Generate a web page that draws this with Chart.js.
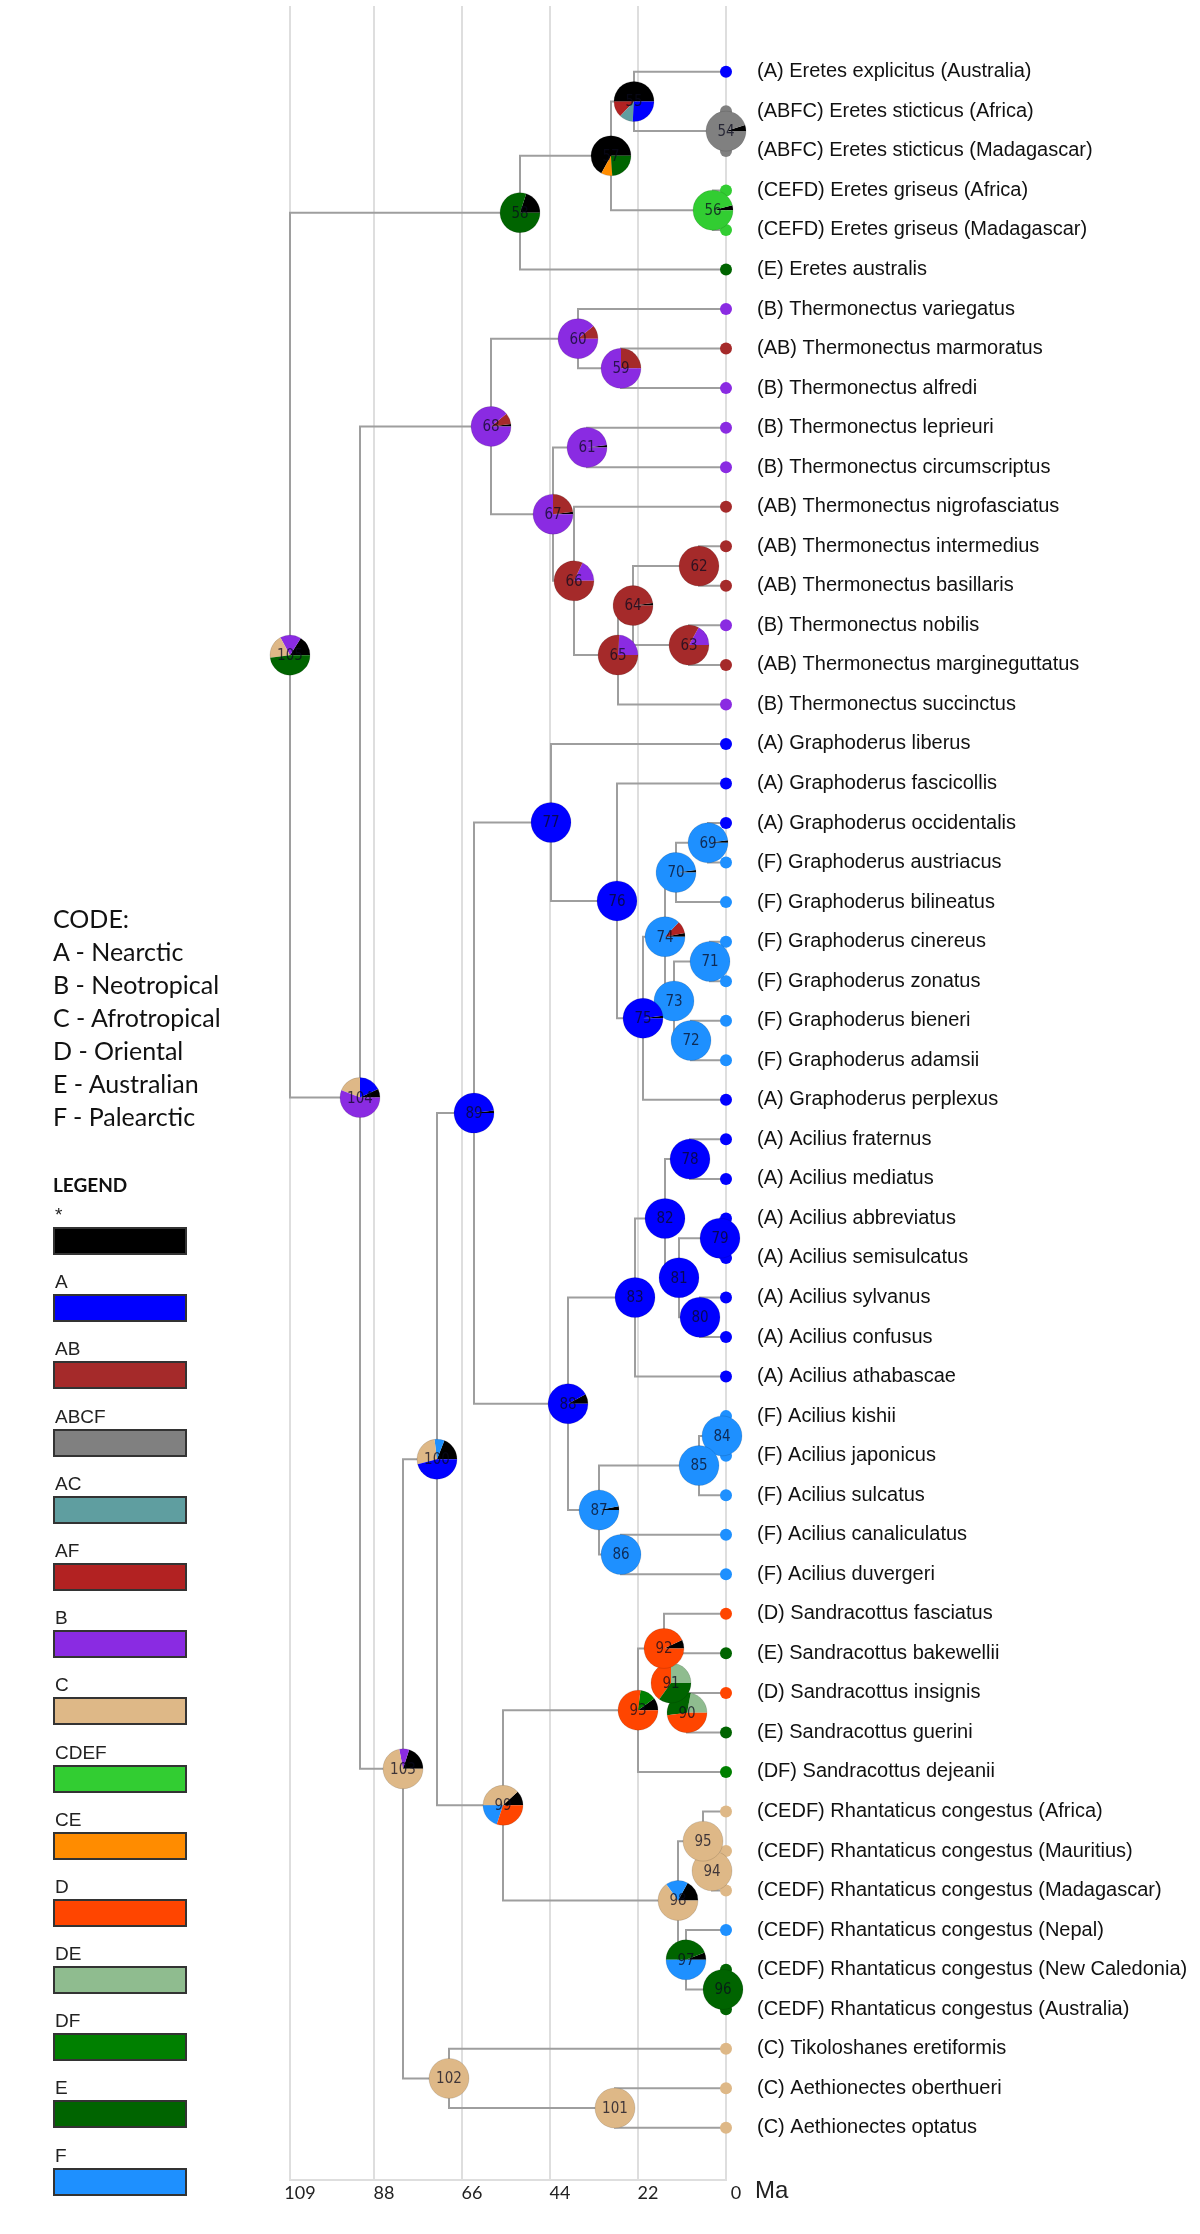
<!DOCTYPE html>
<html>
<head>
<meta charset="utf-8">
<script src="https://cdn.jsdelivr.net/npm/chart.js@4.4.1/dist/chart.umd.min.js"></script>
<style>
  body { margin: 0; background: #fff; }
  #wrap { position: relative; width: 1200px; height: 2234px; }
  #codes { position: absolute; left: 53px; top: 902px; font-family: Lato, sans-serif; font-size: 25px; line-height: 33px; color: #111; }
  #legend { position: absolute; left: 53px; top: 1174px; font-family: "Liberation Sans", Arial, sans-serif; }
  #legend .title { font-family: Lato, sans-serif; font-weight: bold; font-size: 19px; line-height: 22px; color: #111; height: 31px; }
  #legend .lab { font-size: 19px; line-height: 20px; height: 20px; color: #222; margin-left: 2px; }
  #legend .box { width: 130px; height: 24px; border: 2px solid #333; margin-top: 2px; margin-bottom: 17.2px; }
</style>
</head>
<body>
<div id="wrap">
  <canvas id="tree" width="1200" height="2234"></canvas>
  <div id="codes"></div>
  <div id="legend"></div>
</div>
<script>
// tips, top to bottom
const tipNames = [
  "(A) Eretes explicitus (Australia)",
  "(ABFC) Eretes sticticus (Africa)",
  "(ABFC) Eretes sticticus (Madagascar)",
  "(CEFD) Eretes griseus (Africa)",
  "(CEFD) Eretes griseus (Madagascar)",
  "(E) Eretes australis",
  "(B) Thermonectus variegatus",
  "(AB) Thermonectus marmoratus",
  "(B) Thermonectus alfredi",
  "(B) Thermonectus leprieuri",
  "(B) Thermonectus circumscriptus",
  "(AB) Thermonectus nigrofasciatus",
  "(AB) Thermonectus intermedius",
  "(AB) Thermonectus basillaris",
  "(B) Thermonectus nobilis",
  "(AB) Thermonectus margineguttatus",
  "(B) Thermonectus succinctus",
  "(A) Graphoderus liberus",
  "(A) Graphoderus fascicollis",
  "(A) Graphoderus occidentalis",
  "(F) Graphoderus austriacus",
  "(F) Graphoderus bilineatus",
  "(F) Graphoderus cinereus",
  "(F) Graphoderus zonatus",
  "(F) Graphoderus bieneri",
  "(F) Graphoderus adamsii",
  "(A) Graphoderus perplexus",
  "(A) Acilius fraternus",
  "(A) Acilius mediatus",
  "(A) Acilius abbreviatus",
  "(A) Acilius semisulcatus",
  "(A) Acilius sylvanus",
  "(A) Acilius confusus",
  "(A) Acilius athabascae",
  "(F) Acilius kishii",
  "(F) Acilius japonicus",
  "(F) Acilius sulcatus",
  "(F) Acilius canaliculatus",
  "(F) Acilius duvergeri",
  "(D) Sandracottus fasciatus",
  "(E) Sandracottus bakewellii",
  "(D) Sandracottus insignis",
  "(E) Sandracottus guerini",
  "(DF) Sandracottus dejeanii",
  "(CEDF) Rhantaticus congestus (Africa)",
  "(CEDF) Rhantaticus congestus (Mauritius)",
  "(CEDF) Rhantaticus congestus (Madagascar)",
  "(CEDF) Rhantaticus congestus (Nepal)",
  "(CEDF) Rhantaticus congestus (New Caledonia)",
  "(CEDF) Rhantaticus congestus (Australia)",
  "(C) Tikoloshanes eretiformis",
  "(C) Aethionectes oberthueri",
  "(C) Aethionectes optatus"
]
const tipAreas = [
  "A", "ABCF", "ABCF", "CDEF", "CDEF", "E",
  "B", "AB", "B", "B", "B", "AB", "AB", "AB", "B", "AB", "B",
  "A", "A", "A", "F", "F", "F", "F", "F", "F", "A",
  "A", "A", "A", "A", "A", "A", "A", "F", "F", "F", "F", "F",
  "D", "E", "D", "E", "DF",
  "C", "C", "C", "F", "E", "E",
  "C", "C", "C"
]

// internal nodes: children < 53 are tip indices, >= 54 are node ids
const nodeIds = [54, 55, 56, 57, 58, 59, 60, 61, 62, 63, 64, 65, 66, 67, 68, 69, 70, 71, 72, 73, 74, 75, 76, 77, 78, 79, 80, 81, 82, 83, 84, 85, 86, 87, 88, 89, 90, 91, 92, 93, 94, 95, 96, 97, 98, 99, 100, 101, 102, 103, 104, 105]
const nodeAges = [0, 23, 3.25, 28.75, 51.5, 26.25, 37, 34.75, 6.75, 9.25, 23.25, 27, 38, 43.25, 58.75, 4.5, 12.5, 4, 8.75, 13, 15.25, 20.75, 27.25, 43.75, 9, 1.5, 6.5, 11.75, 15.25, 22.75, 1, 6.75, 26.25, 31.75, 39.5, 63, 9.75, 13.75, 15.5, 22, 3.5, 5.75, 0.75, 10, 12, 55.75, 72.25, 27.75, 69.25, 80.75, 91.5, 109]
const nodeChildren = [
  [1, 2], [0, 54], [3, 4], [55, 56], [57, 5],
  [7, 8], [6, 59], [9, 10], [12, 13], [14, 15], [62, 63], [64, 16], [11, 65], [61, 66], [60, 67],
  [19, 20], [69, 21], [22, 23], [24, 25], [71, 72], [70, 73], [74, 26], [18, 75], [17, 76],
  [27, 28], [29, 30], [31, 32], [79, 80], [78, 81], [82, 33], [34, 35], [84, 36], [37, 38], [85, 86], [83, 87], [77, 88],
  [41, 42], [40, 90], [39, 91], [92, 43],
  [45, 46], [44, 94], [48, 49], [47, 96], [95, 97], [93, 98], [89, 99],
  [51, 52], [50, 101], [100, 102], [68, 103], [58, 104]
]
// ancestral area shares, slices counter-clockwise from 3 o'clock
const nodePies = [
  [["*", 0.05], ["ABCF", 0.95]],
  [["*", 0.5], ["AF", 0.13], ["AC", 0.11], ["A", 0.26]],
  [["*", 0.04], ["CDEF", 0.96]],
  [["*", 0.67], ["CE", 0.09], ["E", 0.24]],
  [["*", 0.2], ["E", 0.8]],
  [["AB", 0.25], ["B", 0.75]],
  [["AB", 0.11], ["B", 0.89]],
  [["*", 0.02], ["B", 0.98]],
  [["AB", 1]],
  [["B", 0.17], ["AB", 0.83]],
  [["*", 0.02], ["AB", 0.98]],
  [["B", 0.24], ["AB", 0.76]],
  [["B", 0.18], ["AB", 0.82]],
  [["*", 0.02], ["AB", 0.23], ["B", 0.75]],
  [["*", 0.02], ["AB", 0.09], ["B", 0.89]],
  [["*", 0.02], ["F", 0.98]],
  [["*", 0.02], ["F", 0.98]],
  [["F", 1]],
  [["F", 1]],
  [["F", 1]],
  [["*", 0.03], ["AF", 0.1], ["F", 0.87]],
  [["*", 0.02], ["A", 0.98]],
  [["A", 1]],
  [["A", 1]],
  [["A", 1]],
  [["A", 1]],
  [["A", 1]],
  [["A", 1]],
  [["A", 1]],
  [["A", 1]],
  [["F", 1]],
  [["F", 1]],
  [["F", 1]],
  [["*", 0.03], ["F", 0.97]],
  [["*", 0.08], ["A", 0.92]],
  [["*", 0.02], ["A", 0.98]],
  [["DE", 0.22], ["E", 0.3], ["D", 0.48]],
  [["DE", 0.25], ["D", 0.4], ["E", 0.35]],
  [["*", 0.07], ["D", 0.93]],
  [["*", 0.1], ["DF", 0.13], ["D", 0.77]],
  [["C", 1]],
  [["C", 1]],
  [["E", 1]],
  [["*", 0.06], ["E", 0.44], ["F", 0.5]],
  [["*", 0.17], ["F", 0.18], ["C", 0.65]],
  [["*", 0.12], ["C", 0.38], ["F", 0.2], ["D", 0.3]],
  [["*", 0.19], ["F", 0.08], ["C", 0.27], ["A", 0.46]],
  [["C", 1]],
  [["C", 1]],
  [["*", 0.2], ["B", 0.08], ["C", 0.72]],
  [["*", 0.07], ["A", 0.18], ["C", 0.19], ["B", 0.56]],
  [["*", 0.16], ["B", 0.17], ["C", 0.19], ["E", 0.48]]
]

const legendCodes = ["*", "A", "AB", "ABCF", "AC", "AF", "B", "C", "CDEF", "CE", "D", "DE", "DF", "E", "F"]
const legendColors = ["#000000", "#0000ff", "#a52a2a", "#808080", "#5f9ea0", "#b22222", "#8a2be2", "#deb887", "#32cd32", "#ff8c00", "#ff4500", "#8fbc8f", "#008000", "#006400", "#1e90ff"]
const regionCodes = ["A - Nearctic", "B - Neotropical", "C - Afrotropical", "D - Oriental", "E - Australian", "F - Palearctic"]
const axisTicks = [109, 88, 66, 44, 22, 0]

const areaColor = {}
legendCodes.forEach((c, i) => { areaColor[c] = legendColors[i] })

// tree layout: tips on integer rows, a node sits halfway between its two children
const posX = {}, posY = {}
tipNames.forEach((n, i) => { posX[i] = 0; posY[i] = i })
nodeIds.forEach((id, i) => {
  const [a, b] = nodeChildren[i]
  posX[id] = nodeAges[i]
  posY[id] = (posY[a] + posY[b]) / 2
})

const branchSets = nodeIds.map((id, i) => {
  const [a, b] = nodeChildren[i]
  return {
    type: 'line',
    data: [
      { x: posX[a], y: posY[a] }, { x: posX[id], y: posY[a] },
      { x: posX[id], y: posY[b] }, { x: posX[b], y: posY[b] }
    ],
    borderColor: '#9e9e9e',
    borderWidth: 2,
    pointRadius: 0,
    tension: 0,
    clip: false,
    order: 2,
  }
})

const tipSet = {
  data: tipNames.map((n, i) => ({ x: posX[i], y: posY[i] })),
  pointRadius: 6,
  pointHoverRadius: 6,
  pointBorderWidth: 0,
  pointBackgroundColor: tipAreas.map(c => areaColor[c]),
  clip: false,
  order: 1,
}

const nodeSet = {
  data: nodeIds.map(id => ({ x: posX[id], y: posY[id] })),
  pointRadius: 0,
  pointHoverRadius: 0,
  clip: false,
  order: 0,
}

const piePlugin = {
  id: 'pies',
  afterDatasetsDraw(chart) {
    const ctx = chart.ctx
    const meta = chart.getDatasetMeta(chart.data.datasets.length - 1)
    ctx.save()
    meta.data.forEach((pt, i) => {
      const r = 20
      let a0 = 0
      nodePies[i].forEach(([code, share]) => {
        const a1 = a0 - share * Math.PI * 2
        ctx.beginPath()
        ctx.moveTo(pt.x, pt.y)
        ctx.arc(pt.x, pt.y, r, a0, a1, true)
        ctx.closePath()
        ctx.fillStyle = areaColor[code]
        ctx.fill()
        a0 = a1
      })
      ctx.beginPath()
      ctx.arc(pt.x, pt.y, r, 0, Math.PI * 2)
      ctx.strokeStyle = 'rgba(0,0,0,0.12)'
      ctx.lineWidth = 1
      ctx.stroke()
      ctx.fillStyle = 'rgba(10,10,30,0.75)'
      ctx.font = '15px "DejaVu Sans Condensed", "DejaVu Sans"'
      ctx.textAlign = 'center'
      ctx.textBaseline = 'middle'
      ctx.fillText(String(nodeIds[i]), pt.x, pt.y + 1)
    })
    // time unit next to the axis
    const xs = chart.scales.x
    ctx.fillStyle = '#222'
    ctx.font = '24px "Liberation Sans"'
    ctx.textAlign = 'left'
    ctx.textBaseline = 'middle'
    ctx.fillText('Ma', xs.getPixelForValue(0) + 29, chart.chartArea.bottom + 11)
    ctx.restore()
  }
}

new Chart(document.getElementById('tree'), {
  type: 'scatter',
  data: { datasets: [...branchSets, tipSet, nodeSet] },
  options: {
    responsive: false,
    animation: false,
    events: [],
    layout: { padding: { left: 290, right: 0, top: 0, bottom: 0 } },
    plugins: { legend: { display: false }, tooltip: { enabled: false } },
    scales: {
      x: {
        type: 'linear', min: 0, max: 109, reverse: true,
        afterBuildTicks: ax => { ax.ticks = axisTicks.map(v => ({ value: v })) },
        afterFit: ax => { ax.height = 54; ax.paddingLeft = 0; ax.paddingRight = 0 },
        grid: { color: '#dedede', lineWidth: 2, drawTicks: false },
        border: { color: '#dedede', width: 2 },
        ticks: { padding: 2, labelOffset: 10, color: '#222', font: { family: 'Lato', size: 18 }, maxRotation: 0, autoSkip: false },
      },
      y: {
        type: 'linear', position: 'right', reverse: true, min: -1.6645, max: 53.32,
        afterBuildTicks: ax => { ax.ticks = tipNames.map((n, i) => ({ value: i })) },
        afterFit: ax => { ax.width = 474; ax.paddingTop = 0; ax.paddingBottom = 0 },
        grid: { display: false, drawTicks: false },
        border: { display: false },
        ticks: {
          padding: 31, color: '#111', autoSkip: false,
          font: { family: '"Liberation Sans", Arial', size: 20 },
          callback: v => tipNames[v],
        },
      },
    },
  },
  plugins: [piePlugin],
})

// region codes and colour key on the left
const codes = document.getElementById('codes')
codes.innerHTML = '<div>CODE:</div>' + regionCodes.map(t => '<div>' + t + '</div>').join('')
const legend = document.getElementById('legend')
let html = '<div class="title">LEGEND</div>'
legendCodes.forEach((c, i) => {
  html += '<div class="lab">' + c + '</div><div class="box" style="background:' + legendColors[i] + '"></div>'
})
legend.innerHTML = html
</script>
</body>
</html>
